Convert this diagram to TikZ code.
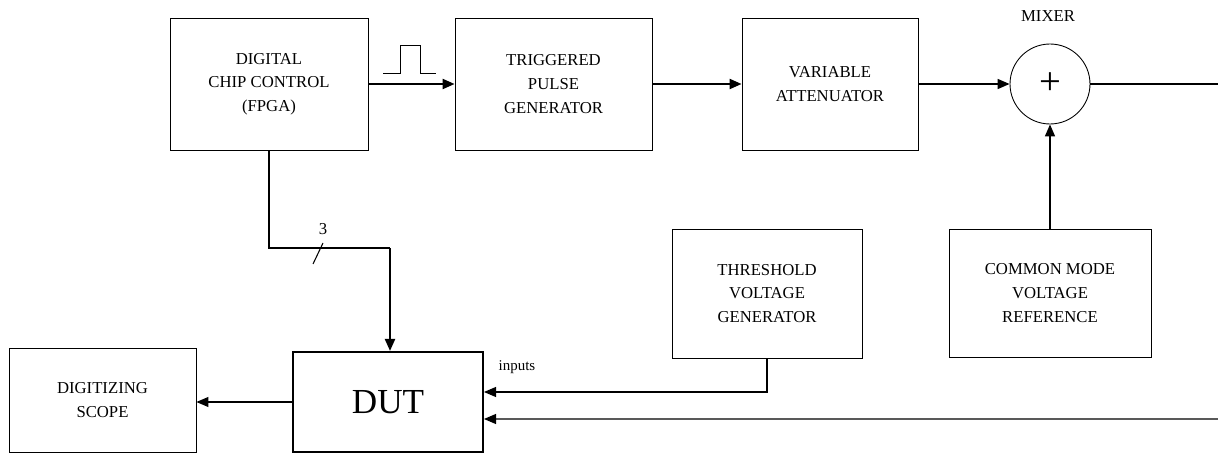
\documentclass[tikz,border=0pt]{standalone}
\usepackage{fontspec}
\setmainfont{Liberation Serif}
\usetikzlibrary{arrows.meta, positioning}

\begin{document}
\begin{tikzpicture}[
  x=0.02cm, y=-0.02cm,
  box/.style={draw, line width=0.5pt, align=center, font=\fontsize{9.5}{13.5}\selectfont,
              inner sep=2pt},
  arr/.style={-{Triangle[length=2.4mm, width=2mm]}, line width=0.6pt},
  thickarr/.style={arr, line width=1.2pt},
  wire/.style={line width=0.6pt}
]
  \useasboundingbox (0,0) rectangle (1218,456);

  % Top row
  \node[box, minimum width=3.96cm, minimum height=2.64cm] (fpga) at (269,84) {DIGITAL\\CHIP CONTROL\\(FPGA)};
  \node[box, minimum width=3.94cm, minimum height=2.64cm] (pulse) at (553.5,84) {TRIGGERED\\PULSE\\GENERATOR};
  \node[box, minimum width=3.52cm, minimum height=2.64cm] (atten) at (830,84) {VARIABLE\\ATTENUATOR};
  \node[draw, circle, line width=0.5pt, minimum size=1.6cm, inner sep=0pt,
        font=\fontsize{22}{22}\selectfont] (mixer) at (1050,84) {+};
  \node[font=\fontsize{9.5}{12}\selectfont] (mixlabel) at (1048,16) {MIXER};
  \coordinate (out) at (1218,84);

  % Voltage sources
  \node[box, minimum width=3.8cm, minimum height=2.58cm] (thresh) at (767,293.5) {THRESHOLD\\VOLTAGE\\GENERATOR};
  \node[box, minimum width=4.04cm, minimum height=2.56cm] (cmref) at (1050,293) {COMMON MODE\\VOLTAGE\\REFERENCE};

  % Bottom row
  \node[draw, line width=1.2pt, minimum width=3.8cm, minimum height=2cm,
        font=\fontsize{20}{20}\selectfont] (dut) at (388,402) {DUT};
  \node[box, minimum width=3.74cm, minimum height=2.08cm] (scope) at (102.5,400) {DIGITIZING\\SCOPE};
  \node[font=\fontsize{8.5}{10}\selectfont] (inlabel) at (517,367) {inputs};
  \coordinate (ret) at (1218,419);

  % Pulse symbol
  \draw[line width=0.5pt] (383,73) -- (400,73) -- (400,45) -- (420,45) -- (420,73) -- (436,73);

  % Arrows
  \draw[thickarr] (fpga.east) -- (pulse.west);
  \draw[thickarr] (pulse.east) -- (atten.west);
  \draw[arr, line width=0.9pt] (atten.east) -- (mixer.west);
  \draw[wire] (mixer.east) -- (out);
  \draw[arr, line width=0.9pt] (cmref.north) -- (mixer.south);
  \draw[wire] (fpga.south) |- (390,248) coordinate (bend);
  \draw[thickarr] (bend) -- (bend |- dut.north);
  \draw[wire] (313,264) -- (323,243) node[above=1pt, font=\fontsize{9.5}{12}\selectfont] (bus) {3};
  \draw[arr] (thresh.south) |- ([yshift=0.2cm]dut.east);
  \draw[arr] (ret) -- ([yshift=-0.34cm]dut.east);
  \draw[arr] (dut.west) -- (dut.west -| scope.east);
\end{tikzpicture}
\end{document}
